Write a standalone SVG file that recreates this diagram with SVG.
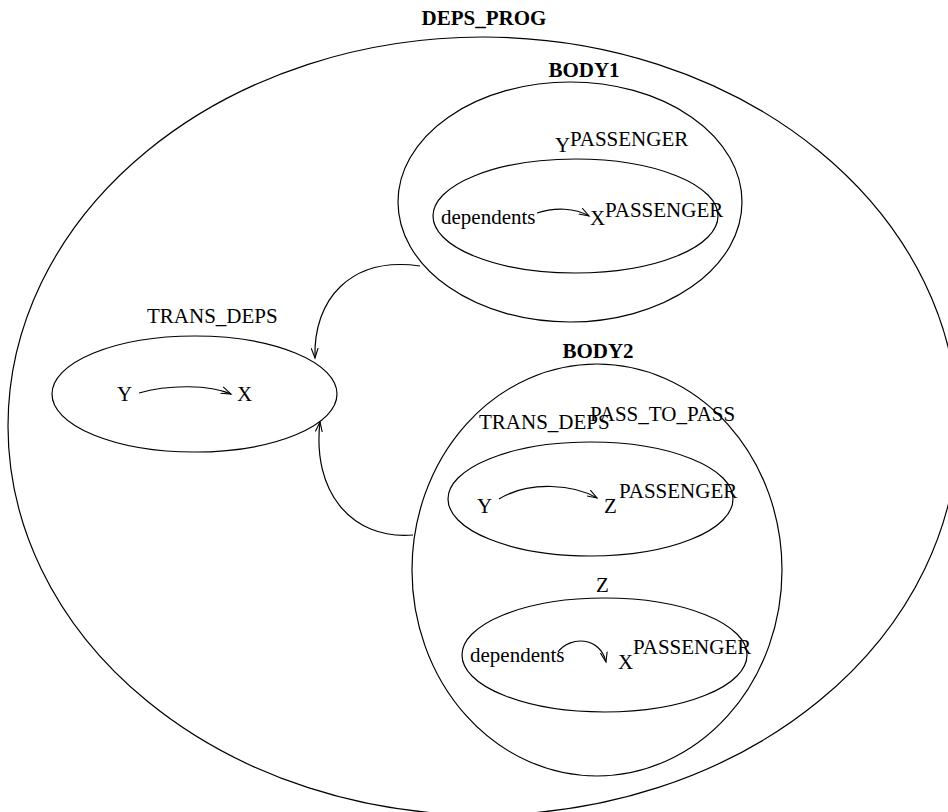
<svg xmlns="http://www.w3.org/2000/svg" width="948" height="812" viewBox="0 0 948 812">
<style>
.e{fill:none;stroke:#000;stroke-width:1.2}
.c{fill:none;stroke:#000;stroke-width:1.2}
text{font-family:"Liberation Serif","Times New Roman",serif;font-size:21px;fill:#000}
.b{font-weight:bold;text-anchor:middle}
</style>
<defs>
<marker id="ah" markerWidth="12" markerHeight="8" refX="10" refY="4" orient="auto" markerUnits="userSpaceOnUse">
<path d="M0,0.5 L10,4 L0,7.5" fill="none" stroke="#000" stroke-width="1.1"/>
</marker>
</defs>
<rect width="948" height="812" fill="#fff"/>
<g id="deps_prog">
<ellipse class="e" cx="483" cy="426" rx="475" ry="389"/>
<text class="b" x="484" y="25">DEPS_PROG</text>
</g>
<g id="body1">
<ellipse class="e" cx="570" cy="202" rx="172" ry="120"/>
<text class="b" x="584" y="77">BODY1</text>
<text x="555" y="152">Y</text>
<text x="570" y="146">PASSENGER</text>
</g>
<g id="body1_inner">
<ellipse class="e" cx="575.5" cy="216" rx="142.5" ry="57"/>
<text x="441" y="224">dependents</text>
<text x="590" y="225">X</text>
<text x="605" y="217">PASSENGER</text>
</g>
<g id="trans_deps">
<ellipse class="e" cx="194.5" cy="394" rx="142.5" ry="58"/>
<text x="147" y="323">TRANS_DEPS</text>
<text x="117" y="401">Y</text>
<text x="237" y="401">X</text>
</g>
<g id="body2">
<ellipse class="e" cx="597" cy="570" rx="185" ry="206"/>
<text class="b" x="598" y="358">BODY2</text>
</g>
<g id="body2_inner1">
<ellipse class="e" cx="590.5" cy="499" rx="142.5" ry="57"/>
<text x="479" y="429">TRANS_DEPS</text>
<text x="590" y="421">PASS_TO_PASS</text>
<text x="477" y="513">Y</text>
<text x="604" y="513">Z</text>
<text x="619" y="498">PASSENGER</text>
</g>
<g id="body2_inner2">
<ellipse class="e" cx="604.5" cy="655" rx="142.5" ry="57"/>
<text x="596" y="592">Z</text>
<text x="470" y="662">dependents</text>
<text x="618" y="669">X</text>
<text x="633" y="654">PASSENGER</text>
</g>
<g id="connectors">
<path class="c" d="M420 266 C350 256 313 300 315 358" marker-end="url(#ah)"/>
<path class="c" d="M413 535 C350 540 312 490 320 422" marker-end="url(#ah)"/>
<path class="c" d="M139 393 C170 384 210 385 231 394" marker-end="url(#ah)"/>
<path class="c" d="M537 213 C555 207 575 208 589 216" marker-end="url(#ah)"/>
<path class="c" d="M499 499 C530 480 575 485 597 498" marker-end="url(#ah)"/>
<path class="c" d="M558 652 C570 636 600 636 606 662" marker-end="url(#ah)"/>
</g>
</svg>
